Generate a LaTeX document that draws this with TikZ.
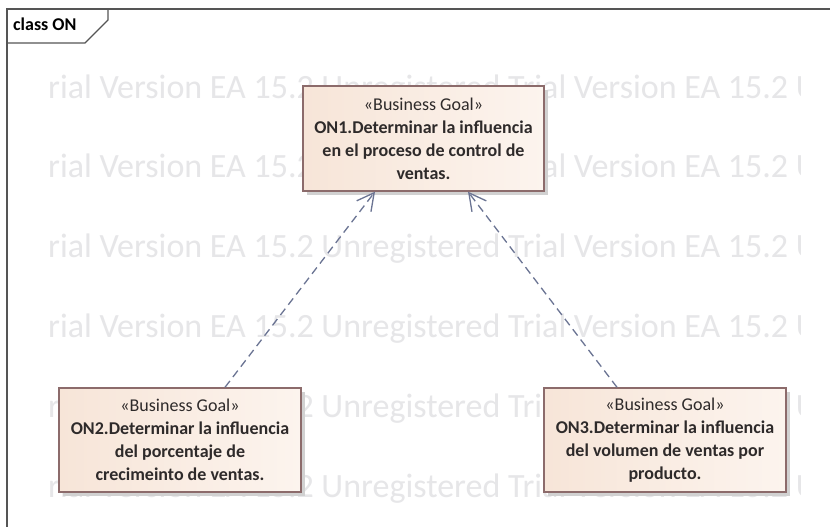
\documentclass[tikz,border=0pt]{standalone}
\usepackage{fontspec}
\setmainfont{Carlito}
\usetikzlibrary{arrows.meta,shadows}

\definecolor{framegray}{HTML}{555555}
\definecolor{goalborder}{HTML}{8C6B6B}
\definecolor{goalfillA}{HTML}{F7E5D8}
\definecolor{goalfillB}{HTML}{FCF4EE}
\definecolor{goaltext}{HTML}{2E2A2A}
\definecolor{linkcol}{HTML}{6B7493}
\definecolor{wmark}{HTML}{E6E6E8}

\tikzset{
  goal/.style={
    draw=goalborder, line width=1.4pt,
    left color=goalfillA, right color=goalfillB,
    drop shadow={shadow xshift=4pt, shadow yshift=-4pt, fill=black!18, opacity=1},
    minimum width=241pt, minimum height=105pt, inner sep=0pt,
    align=center, text=goaltext,
    font=\fontsize{18}{23}\selectfont
  },
  realize/.style={
    draw=linkcol, line width=1.3pt, dash pattern=on 8pt off 5pt,
    -{Straight Barb[length=17pt,width=18pt,line width=1.3pt]}
  },
  watermark/.style={
    anchor=base west, inner sep=0pt, text=wmark,
    font=\fontsize{34}{34}\selectfont
  }
}

\begin{document}
\begin{tikzpicture}[x=1pt,y=-1pt]
  \useasboundingbox (0,0) rectangle (830,527);
  \fill[white] (0,0) rectangle (830,527);

  % evaluation watermark rows
  \begin{scope}
    \clip (8,10) rectangle (800,527);
    \foreach \yy in {98,177,257,337,417,497}
      \node[watermark] at (48,\yy) {rial Version EA 15.2 Unregistered Trial Version EA 15.2 U};
  \end{scope}

  % diagram frame and its name tab
  \draw[framegray, line width=1.5pt] (7,530) -- (7,9) -- (835,9);
  \draw[framegray, line width=1.2pt] (7,43) -- (85,43) -- (108,20) -- (108,9);
  \node[anchor=base west, inner sep=0pt, font=\fontsize{18}{18}\selectfont\bfseries] (tab) at (13,31) {class ON};

  % goals
  \node[goal] (on1) at (423.5,138.5) {«Business Goal»\\\textbf{ON1.Determinar la influencia}\\\textbf{en el proceso de control de}\\\textbf{ventas.}};
  \node[goal, minimum width=242pt, minimum height=104pt] (on2) at (180,440) {«Business Goal»\\\textbf{ON2.Determinar la influencia}\\\textbf{del porcentaje de}\\\textbf{crecimeinto de ventas.}};
  \node[goal, minimum width=242pt, minimum height=104pt] (on3) at (665,440) {«Business Goal»\\\textbf{ON3.Determinar la influencia}\\\textbf{del volumen de ventas por}\\\textbf{producto.}};

  % realization links
  \draw[realize] ([xshift=45pt]on2.north) -- ([xshift=-48.5pt]on1.south);
  \draw[realize] ([xshift=-48pt]on3.north) -- ([xshift=44.5pt]on1.south);
\end{tikzpicture}
\end{document}
